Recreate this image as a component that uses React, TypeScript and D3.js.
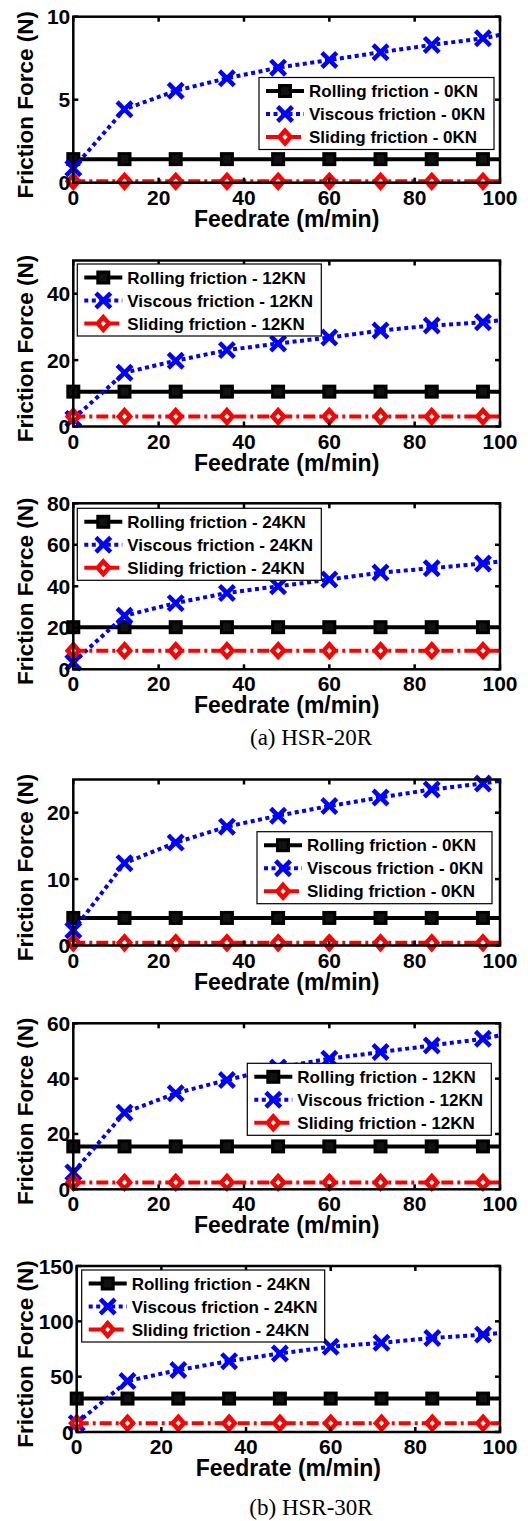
import * as d3 from "d3";
import React from "react";

// feedrate samples (m/min); the last one lies past the axis and only shows as the clipped line end
const feedrate = [0, 12, 24, 36, 48, 60, 72, 84, 96, 108];
const xTicks = [0, 20, 40, 60, 80, 100];

// HSR-20R
const rolling20_0 = [1.42, 1.42, 1.42, 1.42, 1.42, 1.42, 1.42, 1.42, 1.42, 1.42];
const viscous20_0 = [0.87, 4.42, 5.54, 6.29, 6.93, 7.39, 7.86, 8.3, 8.7, 9.3];
const sliding20_0 = [0.08, 0.08, 0.08, 0.08, 0.08, 0.08, 0.08, 0.08, 0.08, 0.08];

const rolling20_12 = [10.5, 10.5, 10.5, 10.5, 10.5, 10.5, 10.5, 10.5, 10.5, 10.5];
const viscous20_12 = [2.3, 16.2, 19.8, 23.0, 25.0, 26.8, 28.9, 30.4, 31.4, 33.2];
const sliding20_12 = [3.0, 3.0, 3.0, 3.0, 3.0, 3.0, 3.0, 3.0, 3.0, 3.0];

const rolling20_24 = [20.3, 20.3, 20.3, 20.3, 20.3, 20.3, 20.3, 20.3, 20.3, 20.3];
const viscous20_24 = [3.3, 25.8, 31.9, 36.8, 40.0, 43.3, 46.6, 48.7, 51.0, 54.0];
const sliding20_24 = [9.0, 9.0, 9.0, 9.0, 9.0, 9.0, 9.0, 9.0, 9.0, 9.0];

// HSR-30R
const rolling30_0 = [4.15, 4.15, 4.15, 4.15, 4.15, 4.15, 4.15, 4.15, 4.15, 4.15];
const viscous30_0 = [2.3, 12.4, 15.5, 17.9, 19.55, 21.0, 22.3, 23.5, 24.4, 25.6];
const sliding30_0 = [0.4, 0.4, 0.4, 0.4, 0.4, 0.4, 0.4, 0.4, 0.4, 0.4];

const rolling30_12 = [15.5, 15.5, 15.5, 15.5, 15.5, 15.5, 15.5, 15.5, 15.5, 15.5];
const viscous30_12 = [6.1, 27.7, 34.7, 39.5, 44.0, 47.2, 49.6, 52.0, 54.4, 58.0];
const sliding30_12 = [2.5, 2.5, 2.5, 2.5, 2.5, 2.5, 2.5, 2.5, 2.5, 2.5];

const rolling30_24 = [30.2, 30.2, 30.2, 30.2, 30.2, 30.2, 30.2, 30.2, 30.2, 30.2];
const viscous30_24 = [8, 46, 56, 64, 71, 77, 80.6, 85, 88, 92.5];
const sliding30_24 = [8.0, 8.0, 8.0, 8.0, 8.0, 8.0, 8.0, 8.0, 8.0, 8.0];

const loads = ["0KN", "12KN", "24KN", "0KN", "12KN", "24KN"];
const yMaxes = [10, 50, 80, 25, 60, 150];
const yTickSets = [[0, 5, 10], [0, 20, 40], [0, 20, 40, 60, 80], [0, 10, 20], [0, 20, 40, 60], [0, 50, 100, 150]];
const seriesSets = [
  [rolling20_0, viscous20_0, sliding20_0],
  [rolling20_12, viscous20_12, sliding20_12],
  [rolling20_24, viscous20_24, sliding20_24],
  [rolling30_0, viscous30_0, sliding30_0],
  [rolling30_12, viscous30_12, sliding30_12],
  [rolling30_24, viscous30_24, sliding30_24],
];
const seriesNames = ["Rolling friction", "Viscous friction", "Sliding friction"];
const captions = ["(a) HSR-20R", "(b) HSR-30R"];

// layout
const layout = [
  { top: 16.7, left: 73.3, lx: 259, ly: 77.5, lw: 235 },
  { top: 260.5, left: 73.3, lx: 77.3, ly: 264, lw: 244 },
  { top: 503.3, left: 73.3, lx: 77.3, ly: 508.3, lw: 244 },
  { top: 779.5, left: 73.3, lx: 257, ly: 831.7, lw: 235 },
  { top: 1023.3, left: 73.3, lx: 247.3, ly: 1063.3, lw: 244 },
  { top: 1266, left: 76.7, lx: 81.7, ly: 1270, lw: 243 },
];
const RIGHT = 500;
const PH = 166;
const FONT = "'Liberation Sans', Arial, Helvetica, sans-serif";
const styles = [
  { color: "#000000", dash: null },
  { color: "#0000ff", dash: "4,3.5" },
  { color: "#ff0000", dash: "12,4,3,4" },
];

function Marker({ kind, x, y }: { kind: number; x: number; y: number }) {
  if (kind === 0) {
    return <rect x={x - 5.5} y={y - 5.5} width={11} height={11} fill="#111" stroke="#000" strokeWidth={3} />;
  }
  if (kind === 1) {
    const s = 5.8;
    return (
      <g stroke="#0000ff" strokeWidth={4.5} strokeLinecap="square">
        <line x1={x - s} y1={y - s} x2={x + s} y2={y + s} />
        <line x1={x - s} y1={y + s} x2={x + s} y2={y - s} />
      </g>
    );
  }
  return (
    <polygon
      points={`${x},${y - 6.3} ${x + 5.6},${y} ${x},${y + 6.3} ${x - 5.6},${y}`}
      fill="#fff"
      stroke="#ff0000"
      strokeWidth={4.5}
      strokeLinejoin="miter"
    />
  );
}

function Panel({ idx }: { idx: number }) {
  const L = layout[idx];
  const bottom = L.top + PH;
  const x = d3.scaleLinear().domain([0, 100]).range([L.left, RIGHT]);
  const y = d3.scaleLinear().domain([0, yMaxes[idx]]).range([bottom, L.top]);
  const line = d3.line<number>().x((d, i) => x(feedrate[i])).y((d) => y(d));
  const clipId = "clip" + idx;
  const tk = 5;

  return (
    <g>
      <clipPath id={clipId}>
        <rect x={L.left} y={L.top} width={RIGHT - L.left} height={PH} />
      </clipPath>
      <rect x={L.left} y={L.top} width={RIGHT - L.left} height={PH} fill="#fff" />

      {/* series */}
      {seriesSets[idx].map((vals, s) => (
        <g key={s}>
          <path
            d={line(vals) || ""}
            fill="none"
            stroke={styles[s].color}
            strokeWidth={4}
            strokeDasharray={styles[s].dash || undefined}
            clipPath={`url(#${clipId})`}
          />
          {vals.map((v, i) =>
            feedrate[i] <= 100 ? <Marker key={i} kind={s} x={x(feedrate[i])} y={y(v)} /> : null
          )}
        </g>
      ))}

      {/* frame and ticks */}
      <g stroke="#000" strokeWidth={2.5} fill="none">
        <rect x={L.left} y={L.top} width={RIGHT - L.left} height={PH} />
        {xTicks.map((t) => (
          <g key={"x" + t}>
            <line x1={x(t)} x2={x(t)} y1={bottom} y2={bottom - tk} />
            <line x1={x(t)} x2={x(t)} y1={L.top} y2={L.top + tk} />
          </g>
        ))}
        {yTickSets[idx].map((t) => (
          <g key={"y" + t}>
            <line x1={L.left} x2={L.left + tk} y1={y(t)} y2={y(t)} />
            <line x1={RIGHT} x2={RIGHT - tk} y1={y(t)} y2={y(t)} />
          </g>
        ))}
      </g>

      {/* tick labels */}
      <g fontFamily={FONT} fontWeight="bold" fontSize={21} fill="#000">
        {xTicks.map((t) => (
          <text key={"xl" + t} x={x(t)} y={bottom + 22} textAnchor="middle">
            {t}
          </text>
        ))}
        {yTickSets[idx].map((t) => (
          <text key={"yl" + t} x={L.left - 3} y={y(t) + 7.5} textAnchor="end">
            {t}
          </text>
        ))}
      </g>

      {/* axis titles */}
      <text
        x={(L.left + RIGHT) / 2}
        y={bottom + 44}
        textAnchor="middle"
        fontFamily={FONT}
        fontWeight="bold"
        fontSize={23}
      >
        Feedrate (m/min)
      </text>
      <text
        transform={`translate(33,${L.top + 88}) rotate(-90)`}
        textAnchor="middle"
        fontFamily={FONT}
        fontWeight="bold"
        fontSize={22.5}
      >
        Friction Force (N)
      </text>

      {/* legend */}
      <g>
        <rect x={L.lx} y={L.ly} width={L.lw} height={72} fill="#fff" stroke="#000" strokeWidth={1.2} />
        {seriesNames.map((name, s) => {
          const ry = L.ly + 13.5 + s * 23;
          return (
            <g key={name}>
              <line
                x1={L.lx + 7}
                x2={L.lx + 45}
                y1={ry}
                y2={ry}
                stroke={styles[s].color}
                strokeWidth={4}
                strokeDasharray={styles[s].dash || undefined}
              />
              <Marker kind={s} x={L.lx + 26} y={ry} />
              <text x={L.lx + 50} y={ry + 6} fontFamily={FONT} fontWeight="bold" fontSize={17}>
                {name + " - " + loads[idx]}
              </text>
            </g>
          );
        })}
      </g>
    </g>
  );
}

export default function App() {
  return (
    <svg
      width={528}
      height={1521}
      style={{ position: "absolute", left: 0, top: 0, background: "#fff" }}
    >
      <rect width={528} height={1521} fill="#fff" />
      {layout.map((_, i) => (
        <Panel key={i} idx={i} />
      ))}
      <text x={311} y={745} textAnchor="middle" fontFamily="'Liberation Serif', 'Times New Roman', serif" fontSize={23}>
        {captions[0]}
      </text>
      <text x={311} y={1515} textAnchor="middle" fontFamily="'Liberation Serif', 'Times New Roman', serif" fontSize={23}>
        {captions[1]}
      </text>
    </svg>
  );
}
